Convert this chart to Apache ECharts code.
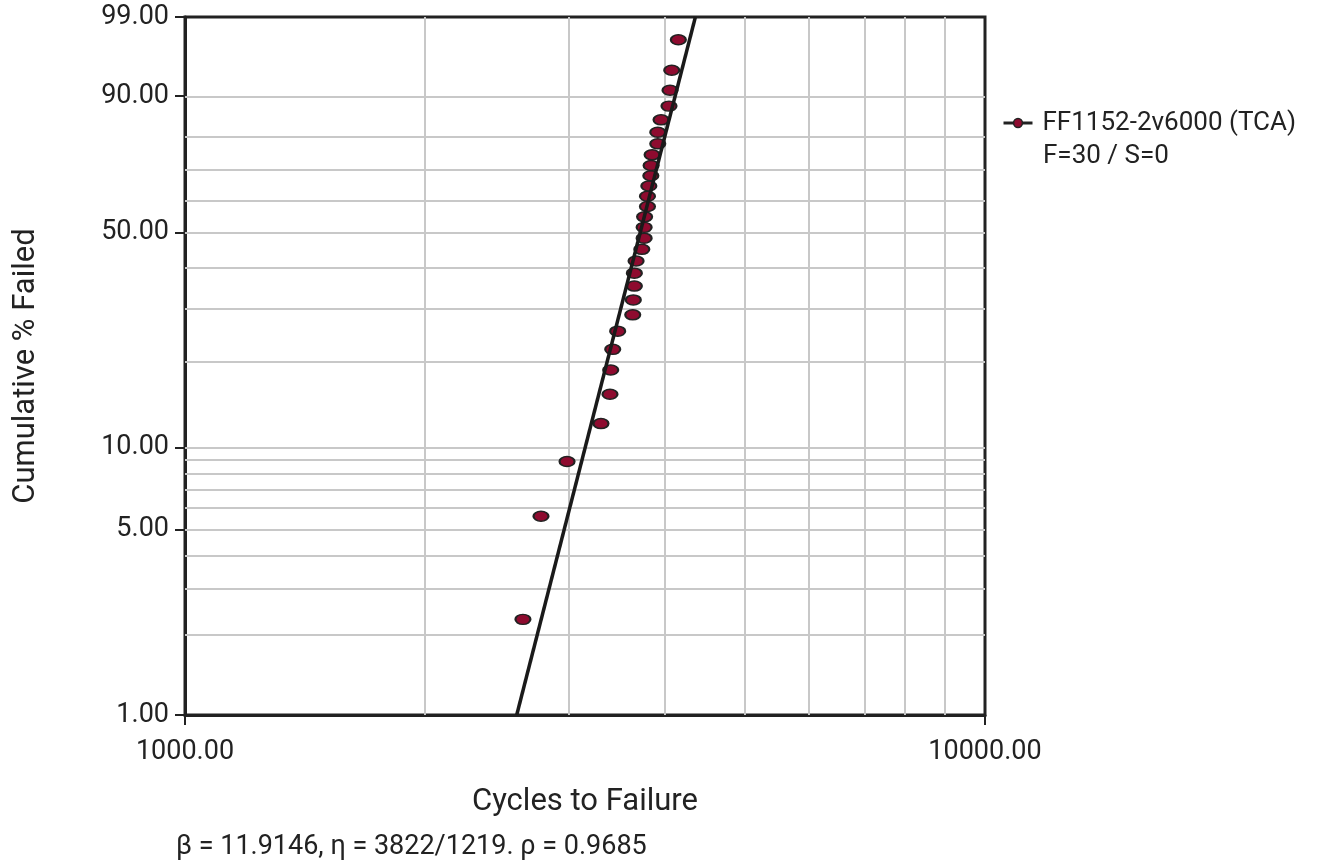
<!DOCTYPE html>
<html>
<head>
<meta charset="utf-8">
<script src="https://cdn.jsdelivr.net/npm/echarts@6/dist/echarts.min.js"></script>
<style>
  html, body { margin: 0; padding: 0; background: #fff; }
  #chart { width: 1322px; height: 867px; }
</style>
</head>
<body>
<div id="chart"></div>
<script>
// failure data (cycles) and Bernard median ranks (%)
var cycles = [2645, 2786, 3003, 3311, 3398, 3405, 3425, 3474, 3628, 3634,
  3645, 3645, 3663, 3724, 3749, 3749, 3754, 3785, 3785, 3800,
  3822, 3825, 3836, 3899, 3899, 3936, 4027, 4039, 4059, 4137];
var pctFailed = [2.30, 5.59, 8.88, 12.17, 15.46, 18.75, 22.04, 25.33, 28.62, 31.91,
  35.20, 38.49, 41.78, 45.07, 48.36, 51.64, 54.93, 58.22, 61.51, 64.80,
  68.09, 71.38, 74.67, 77.96, 81.25, 84.54, 87.83, 91.12, 94.41, 97.70];

// fitted weibull line end points
var fitCycles = [2598, 4345];
var fitPct = [1, 99];

var yLabels = [1, 5, 10, 50, 90, 99];
var yGrid = [2, 3, 4, 5, 6, 7, 8, 9, 10, 20, 30, 40, 50, 60, 70, 80, 90];
var xGrid = [2000, 3000, 4000, 5000, 6000, 7000, 8000, 9000];
var xRange = [1000, 10000];

var seriesName = "FF1152-2v6000 (TCA)";
var subText = "F=30 / S=0";
var footer = "\u03b2 = 11.9146, \u03b7 = 3822/1219. \u03c1 = 0.9685";

// weibull probability scale
function wt(p) {
  return Math.log(-Math.log(1 - p / 100));
}
function lg(v) {
  return Math.log10(v);
}

var pts = [];
for (var i = 0; i < cycles.length; i++) {
  pts.push([lg(cycles[i]), wt(pctFailed[i])]);
}
var fitPts = [];
for (var j = 0; j < fitCycles.length; j++) {
  fitPts.push([lg(fitCycles[j]), wt(fitPct[j])]);
}

var gridLines = [];
xGrid.forEach(function (v) { gridLines.push({ xAxis: lg(v) }); });
yGrid.forEach(function (v) { gridLines.push({ yAxis: wt(v) }); });

var txt = "#222";
var font = "Roboto";

var myChart = echarts.init(document.getElementById("chart"));
var option = {
  animation: false,
  textStyle: { fontFamily: font },
  grid: {
    left: 185,
    top: 17,
    width: 800,
    height: 698,
    show: true,
    borderColor: "#222",
    borderWidth: 3,
    backgroundColor: "transparent",
    outerBoundsMode: "none"
  },
  legend: {
    data: [seriesName],
    left: 1002,
    top: 110,
    padding: 0,
    itemWidth: 29,
    itemHeight: 11,
    lineStyle: { color: "#222", width: 3, opacity: 1 },
    itemStyle: { color: "#8e0b2f", borderColor: "#222", borderWidth: 1.5 },
    textStyle: {
      color: txt,
      fontSize: 26,
      fontFamily: font,
      padding: [0, 0, 0, 5]
    }
  },
  xAxis: {
    type: "value",
    min: lg(xRange[0]),
    max: lg(xRange[1]),
    interval: 1,
    name: "Cycles to Failure",
    nameLocation: "middle",
    nameGap: 72,
    nameTextStyle: { color: txt, fontSize: 31, fontFamily: font },
    axisLine: { show: true, onZero: false, lineStyle: { color: "#222", width: 3 } },
    axisTick: { show: true, length: 10, lineStyle: { color: "#222", width: 2 } },
    splitLine: { show: false },
    axisLabel: {
      color: txt,
      fontSize: 27,
      fontFamily: font,
      margin: 24,
      formatter: function (v) { return Math.pow(10, v).toFixed(2); }
    }
  },
  yAxis: {
    type: "value",
    min: wt(fitPct[0]),
    max: wt(fitPct[1]),
    name: "Cumulative % Failed",
    nameLocation: "middle",
    nameGap: 143,
    nameTextStyle: { color: txt, fontSize: 31, fontFamily: font },
    axisLine: { show: true, onZero: false, lineStyle: { color: "#222", width: 3 } },
    axisTick: {
      show: true,
      length: 10,
      lineStyle: { color: "#222", width: 2 },
      customValues: yLabels.map(wt)
    },
    splitLine: { show: false },
    axisLabel: {
      color: txt,
      fontSize: 27,
      fontFamily: font,
      margin: 16,
      customValues: yLabels.map(wt),
      formatter: function (v) {
        return (100 * (1 - Math.exp(-Math.exp(v)))).toFixed(2);
      }
    }
  },
  graphic: [
    {
      type: "text",
      left: 1043,
      top: 143,
      style: { text: subText, fill: txt, fontSize: 26, fontFamily: font }
    },
    {
      type: "text",
      left: 176,
      top: 834,
      style: { text: footer, fill: txt, fontSize: 27, fontFamily: font }
    }
  ],
  series: [
    {
      name: "grid",
      type: "line",
      data: [],
      z: 1,
      silent: true,
      markLine: {
        silent: true,
        z: 1,
        symbol: "none",
        label: { show: false },
        lineStyle: { color: "#c8c8c8", width: 2, type: "solid" },
        data: gridLines
      }
    },
    {
      name: seriesName,
      type: "line",
      data: pts,
      z: 3,
      symbol: "circle",
      symbolSize: [15, 10],
      showSymbol: true,
      lineStyle: { width: 0, opacity: 0 },
      itemStyle: { color: "#8e0b2f", borderColor: "#222", borderWidth: 1.8 }
    },
    {
      name: "fit",
      type: "line",
      data: fitPts,
      z: 4,
      symbol: "none",
      lineStyle: { color: "#1a1a1a", width: 3.5 }
    }
  ]
};
myChart.setOption(option);
</script>
</body>
</html>
